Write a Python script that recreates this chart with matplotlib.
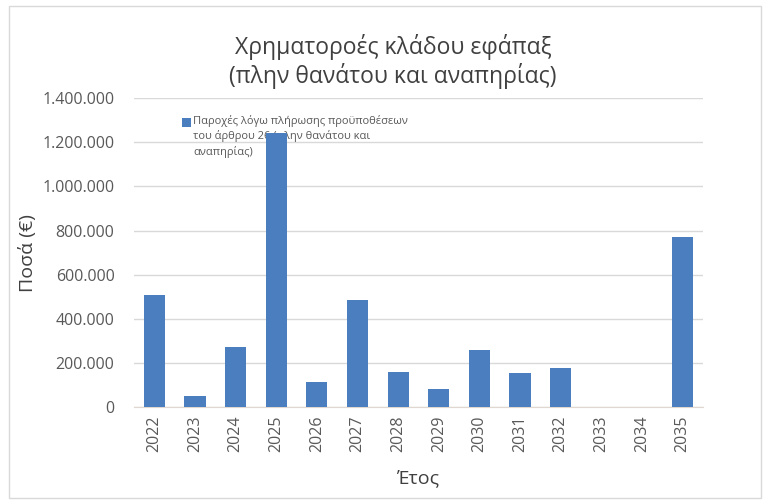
import matplotlib
matplotlib.use("Agg")
import matplotlib.pyplot as plt
from matplotlib.patches import Rectangle
from matplotlib.legend_handler import HandlerPatch
from matplotlib.container import BarContainer

years = ["2022", "2023", "2024", "2025", "2026", "2027", "2028",
         "2029", "2030", "2031", "2032", "2033", "2034", "2035"]
values = [509000, 52000, 272000, 1241000, 117000, 486000, 159000,
          83000, 261000, 158000, 178000, 0, 0, 771000]
y_ticks = [0, 200000, 400000, 600000, 800000, 1000000, 1200000, 1400000]
y_tick_labels = ["0", "200.000", "400.000", "600.000", "800.000",
                 "1.000.000", "1.200.000", "1.400.000"]
title = "Χρηματοροές κλάδου εφάπαξ\n(πλην θανάτου και αναπηρίας)"
series_name = "Παροχές λόγω πλήρωσης προϋποθέσεων\nτου άρθρου 26 (πλην θανάτου και\nαναπηρίας)"

plt.rcParams['font.family'] = ['Open Sans', 'DejaVu Sans']

fig = plt.figure(figsize=(7.69, 5.04), dpi=100)
fig.patches.append(Rectangle((0.012, 0.012), 0.978, 0.976, transform=fig.transFigure,
                             fill=False, edgecolor="#d9d9d9", linewidth=1))
ax = fig.add_axes([0.1743, 0.1915, 0.7397, 0.6141])

x = list(range(len(years)))
ax.bar(x, values, width=0.52, color="#4a7ebf", zorder=3, label=series_name)
ax.set_xlim(-0.5, len(years) - 0.5)
ax.set_ylim(0, 1400000)
ax.set_yticks(y_ticks)
ax.set_yticklabels(y_tick_labels)
ax.set_xticks(x)
ax.set_xticklabels(years, rotation=90)
ax.tick_params(axis="both", length=0, labelsize=11.5, colors="#595959")
ax.tick_params(axis="y", pad=14)
ax.tick_params(axis="x", pad=6)
ax.grid(axis="y", color="#d9d9d9", linewidth=1, zorder=0)
for s in ["top", "right", "left"]:
    ax.spines[s].set_visible(False)
ax.spines["bottom"].set_color("#e0d8d0")
ax.set_axisbelow(True)

ax.set_ylabel("Ποσά (€)", fontsize=14, color="#404040", labelpad=4)
ax.set_xlabel("Έτος", fontsize=14, color="#404040", labelpad=12)
fig.text(0.511, 0.877, title, ha="center", va="center", fontsize=16.5,
         color="#404040", linespacing=1.15)


def top_square(legend, orig_handle, xdescent, ydescent, width, height, fontsize):
    s = 0.75 * fontsize
    return Rectangle((-xdescent, -ydescent + height - s * 0.45), s, s)


def copy_style(legend_handle, orig_handle):
    legend_handle.update_from(orig_handle.patches[0])


leg = ax.legend(loc="upper left", bbox_to_anchor=(0.077, 0.96), frameon=False,
                fontsize=8, handlelength=0.75, handleheight=3.6, handletextpad=0.25,
                borderaxespad=0,
                handler_map={BarContainer: HandlerPatch(patch_func=top_square,
                                                        update_func=copy_style)})
for t in leg.get_texts():
    t.set_color("#595959")
    t.set_linespacing(1.4)
leg.set_zorder(2)

fig.savefig("out.png", dpi=100)
